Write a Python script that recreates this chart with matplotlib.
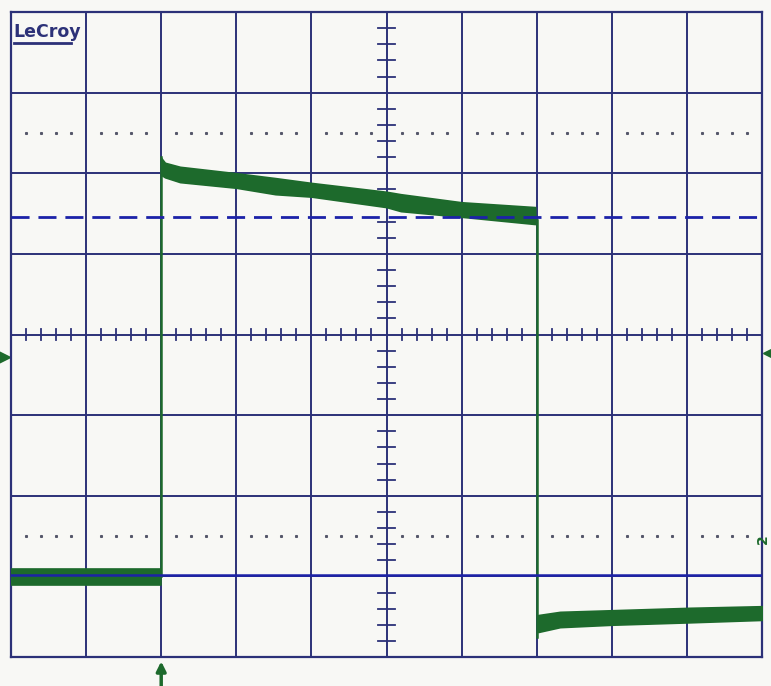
import numpy as np
import matplotlib.pyplot as plt

# scope screen, units are divisions (10 x 8)
bg = "#f8f8f5"
grid_col = "#2c3178"
trace_col = "#1d6a2c"
ref_col = "#1c22a8"

# channel trace envelope while the pulse is high
hi_t = [-3.0, -2.95, -2.75, -2.0, -1.48, -1.0, 0.0, 0.19, 1.0, 1.98]
hi_top = [2.19, 2.13, 2.08, 2.0, 1.94, 1.88, 1.77, 1.74, 1.64, 1.58]
hi_bot = [1.98, 1.95, 1.89, 1.82, 1.74, 1.71, 1.58, 1.53, 1.46, 1.37]

# before the pulse
pre_t = [-5.0, -3.0]
pre_top = [-2.91, -2.91]
pre_bot = [-3.11, -3.11]

# after the pulse
post_t = [2.02, 2.31, 3.0, 4.04, 5.0]
post_top = [-3.48, -3.44, -3.42, -3.39, -3.37]
post_bot = [-3.69, -3.63, -3.60, -3.57, -3.54]

rise_t, rise_lo, rise_hi = -3.0, -3.0, 2.2
fall_t, fall_hi, fall_lo = 2.0, 1.42, -3.75

# reference cursors
dash_level = 1.46
solid_level = -2.98
dot_levels = [2.5, -2.5]

fig = plt.figure(figsize=(7.71, 6.86), dpi=100, facecolor=bg)
ax = fig.add_axes([11 / 771, 29 / 686, 751 / 771, 645 / 686])
ax.set_facecolor(bg)
ax.set_xlim(-5, 5)
ax.set_ylim(-4, 4)
ax.set_xticks([])
ax.set_yticks([])
for s in ax.spines.values():
    s.set_color(grid_col)
    s.set_linewidth(1.6)

# grid
for gx in range(-4, 5):
    ax.axvline(gx, color=grid_col, lw=1.4, zorder=1)
for gy in range(-3, 4):
    ax.axhline(gy, color=grid_col, lw=1.4, zorder=1)

minor = [v / 5 for v in range(-25, 26) if v % 5 != 0]
minor_y = [v / 5 for v in range(-20, 21) if v % 5 != 0]
# dotted rows
for lev in dot_levels:
    ax.plot(minor, [lev] * len(minor), ls="none", marker="s", ms=1.2,
            color="#55576a", zorder=1)
# centre ticks
for m in minor:
    ax.plot([m, m], [-0.065, 0.065], color=grid_col, lw=1.3, zorder=1)
for m in minor_y:
    ax.plot([-0.11, 0.11], [m, m], color=grid_col, lw=1.3, zorder=1)

# trace
for t, top, bot in [(pre_t, pre_top, pre_bot), (hi_t, hi_top, hi_bot),
                    (post_t, post_top, post_bot)]:
    ax.fill_between(t, bot, top, color=trace_col, lw=1.2, ec=trace_col, zorder=3)
ax.plot([rise_t, rise_t], [rise_lo, rise_hi], color=trace_col, lw=1.8, zorder=3)
ax.plot([fall_t, fall_t], [fall_hi, fall_lo], color=trace_col, lw=1.8, zorder=3)

# cursors
ax.axhline(dash_level, color=ref_col, lw=2, dashes=(6.5, 3.2), zorder=4)
ax.axhline(solid_level, color=ref_col, lw=1.8, zorder=4)

# markers outside the graticule
ax.plot([-5.09], [-0.28], marker=">", ms=8, color=trace_col, clip_on=False)
ax.plot([5.09], [-0.23], marker="<", ms=8, color=trace_col, clip_on=False)
ax.annotate("", xy=(rise_t, -4.02), xytext=(rise_t, -4.45),
            arrowprops=dict(arrowstyle="-|>", color=trace_col, lw=2.5,
                            mutation_scale=14), annotation_clip=False)
ax.text(5.105, -2.54, "2", color=trace_col, fontsize=10, fontweight="bold",
        rotation=90, ha="right", va="center", clip_on=False, zorder=5)

# logo
ax.text(-4.97, 3.86, "LeCroy", color=grid_col, fontsize=12.5,
        fontweight="bold", ha="left", va="top")
ax.plot([-4.96, -4.2], [3.62, 3.62], color=grid_col, lw=2)

fig.savefig("out.png", dpi=100, facecolor=bg)
